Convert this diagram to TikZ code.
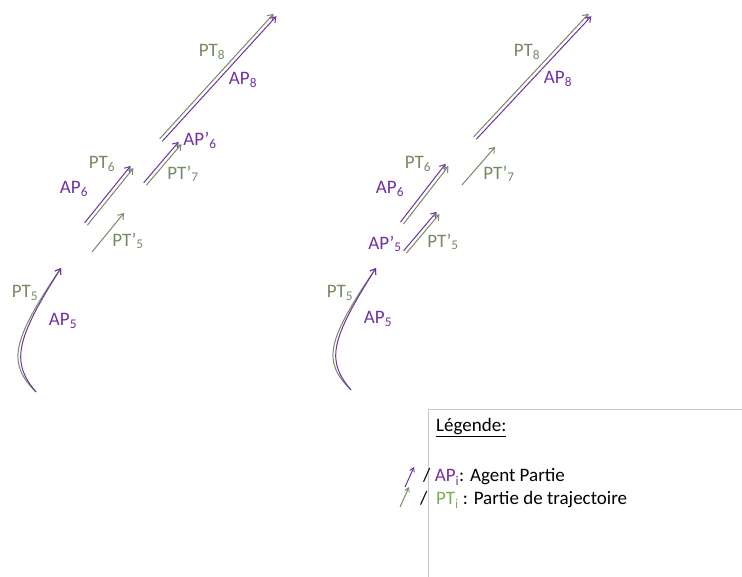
\documentclass[tikz,border=0pt]{standalone}
\usepackage{fontspec}
\setmainfont{Carlito}
\usetikzlibrary{arrows.meta,calc}
\definecolor{apc}{RGB}{112,48,160}
\definecolor{ptc}{RGB}{118,138,100}
\definecolor{ptl}{RGB}{120,176,80}
\definecolor{framec}{RGB}{200,200,200}
\newcommand\off{1.8pt}
% double arrow: #1 start, #2 end, #3 colour of upper-left line, #4 colour of lower-right line
\newcommand\dblarrow[4]{%
  \draw[arr,#3] ($(#1)!\off!90:(#2)$) -- ($(#2)!\off!-90:(#1)$);
  \draw[arr,#4] ($(#1)!\off!-90:(#2)$) -- ($(#2)!\off!90:(#1)$);}
\begin{document}
\begin{tikzpicture}[x=1pt,y=-1pt,
  arr/.style={line width=1pt,-{Straight Barb[length=5pt,width=7pt,line width=1pt]}},
  lab/.style={font=\fontsize{19}{22}\selectfont,inner sep=0pt},
  aplab/.style={lab,text=apc},
  ptlab/.style={lab,text=ptc},
  legtext/.style={font=\fontsize{19}{22}\selectfont,inner sep=0pt,anchor=west}]
\useasboundingbox (0,0) rectangle (742,577);
% ---------- left figure ----------
\coordinate (L5s) at (36,392);
\coordinate (L5e) at (61,268);
\draw[arr,ptc] (L5s) .. controls (8,364) and (10,343) .. (L5e);
\draw[arr,apc,xshift=3.8pt,yshift=0.8pt] (L5s) .. controls (8,364) and (10,343) .. (L5e);
\coordinate (L6s) at (86,224);   \coordinate (L6e) at (132,167);
\dblarrow{L6s}{L6e}{apc}{ptc}
\coordinate (Lp5s) at (92,252);  \coordinate (Lp5e) at (124,213);
\draw[arr,ptc] (Lp5s) -- (Lp5e);
\coordinate (Lp6s) at (145,184); \coordinate (Lp6e) at (180,143);
\dblarrow{Lp6s}{Lp6e}{apc}{ptc}
\coordinate (L8s) at (161,140);  \coordinate (L8e) at (275,15);
\dblarrow{L8s}{L8e}{ptc}{apc}
\node[ptlab] (lpt8) at (212,52) {PT\textsubscript{8}};
\node[aplab] (lap8) at (243,80) {AP\textsubscript{8}};
\node[aplab] (lapp6) at (200,140) {AP’\textsubscript{6}};
\node[ptlab] (lptp7) at (183,174) {PT’\textsubscript{7}};
\node[ptlab] (lpt6) at (102,164) {PT\textsubscript{6}};
\node[aplab] (lap6) at (74,189) {AP\textsubscript{6}};
\node[ptlab] (lptp5) at (128,241) {PT’\textsubscript{5}};
\node[ptlab] (lpt5) at (25,293) {PT\textsubscript{5}};
\node[aplab] (lap5) at (63,321) {AP\textsubscript{5}};
% ---------- right figure ----------
\coordinate (R5s) at (351,390);
\coordinate (R5e) at (376,268);
\draw[arr,ptc] (R5s) .. controls (323,362) and (325,343) .. (R5e);
\draw[arr,apc,xshift=3.8pt,yshift=0.8pt] (R5s) .. controls (323,362) and (325,343) .. (R5e);
\coordinate (R6s) at (402,223);  \coordinate (R6e) at (447,165);
\dblarrow{R6s}{R6e}{apc}{ptc}
\coordinate (Rp5s) at (405,252); \coordinate (Rp5e) at (438,213);
\dblarrow{Rp5s}{Rp5e}{apc}{ptc}
\coordinate (Rp7s) at (462,185); \coordinate (Rp7e) at (495,147);
\draw[arr,ptc] (Rp7s) -- (Rp7e);
\coordinate (R8s) at (475,138);  \coordinate (R8e) at (590,15);
\dblarrow{R8s}{R8e}{ptc}{apc}
\node[ptlab] (rpt8) at (527,52) {PT\textsubscript{8}};
\node[aplab] (rap8) at (558,79) {AP\textsubscript{8}};
\node[ptlab] (rptp7) at (499,174) {PT’\textsubscript{7}};
\node[ptlab] (rpt6) at (418,164) {PT\textsubscript{6}};
\node[aplab] (rap6) at (390,189) {AP\textsubscript{6}};
\node[aplab] (rapp5) at (385,244) {AP’\textsubscript{5}};
\node[ptlab] (rptp5) at (443,242) {PT’\textsubscript{5}};
\node[ptlab] (rpt5) at (340,293) {PT\textsubscript{5}};
\node[aplab] (rap5) at (378,319) {AP\textsubscript{5}};
% ---------- legend ----------
\coordinate (fA) at (428,577);
\coordinate (fB) at (428,409);
\coordinate (fC) at (742,409);
\draw[framec,line width=1pt] (fA) -- (fB) -- (fC);
\node[legtext] (legtitle) at (436,428) {\underline{Légende:}};
\coordinate (la1) at (405,487); \coordinate (la2) at (414,467);
\draw[line width=1pt,apc,-{Straight Barb[length=4pt,width=5pt,line width=0.9pt]}] (la1) -- (la2);
\coordinate (lb1) at (400,507); \coordinate (lb2) at (409,487);
\draw[line width=1pt,ptc,-{Straight Barb[length=4pt,width=5pt,line width=0.9pt]}] (lb1) -- (lb2);
\node[legtext] (leg1) at (423,477) {/ \textcolor{apc}{AP\textsubscript{i}}: Agent Partie};
\node[legtext] (leg2) at (420,500) {/\ \ \textcolor{ptl}{PT\textsubscript{i}} : Partie de trajectoire};
\end{tikzpicture}
\end{document}
